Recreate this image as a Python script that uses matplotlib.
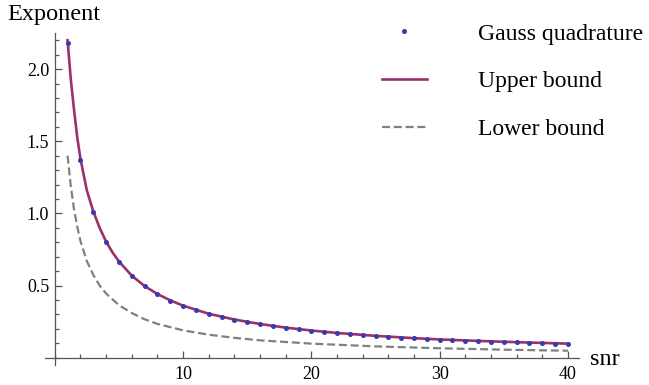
import numpy as np
import matplotlib.pyplot as plt
from matplotlib.ticker import MultipleLocator, FixedLocator

plt.rcParams['font.family'] = ['Liberation Serif', 'DejaVu Serif']

# Gauss quadrature points (snr = 1..40)
snr_pts = np.arange(1, 41)
gauss = [2.18, 1.37, 1.01, 0.80, 0.665, 0.566, 0.495, 0.44, 0.395, 0.358,
         0.328, 0.302, 0.282, 0.262, 0.245, 0.231, 0.218, 0.206, 0.196, 0.187,
         0.178, 0.170, 0.163, 0.156, 0.150, 0.144, 0.139, 0.134, 0.130, 0.125,
         0.122, 0.118, 0.115, 0.112, 0.109, 0.106, 0.104, 0.101, 0.098, 0.096]

# Upper bound curve
snr_up = [1, 1.25, 1.5, 1.75, 2, 2.5, 3, 3.5, 4, 4.5, 5, 6, 7, 8, 9, 10, 12,
          14, 16, 18, 20, 22, 25, 28, 30, 33, 36, 40]
upper = [2.20, 1.93, 1.72, 1.53, 1.38, 1.16, 1.015, 0.90, 0.805, 0.73, 0.668,
         0.569, 0.497, 0.442, 0.398, 0.361, 0.305, 0.265, 0.234, 0.209, 0.189,
         0.172, 0.152, 0.136, 0.127, 0.117, 0.108, 0.098]

# Lower bound curve
snr_lo = [1, 1.25, 1.5, 1.75, 2, 2.5, 3, 3.5, 4, 5, 6, 7, 8, 10, 12, 14, 16,
          20, 25, 30, 35, 40]
lower = [1.40, 1.19, 1.03, 0.91, 0.81, 0.67, 0.575, 0.50, 0.445, 0.365, 0.31,
         0.267, 0.235, 0.19, 0.16, 0.138, 0.121, 0.098, 0.079, 0.066, 0.056,
         0.049]

fig = plt.figure(figsize=(6.49, 3.85), dpi=100)
W, H = 649, 385
ax = fig.add_axes([45 / W, 20 / H, (579 - 45) / W, (365 - 33) / H])

ax.plot(snr_lo, lower, color='#808080', lw=1.6, ls=(0, (3.6, 1.7)),
        label='Lower bound')
ax.plot(snr_up, upper, color='#9c2f6c', lw=1.9, label='Upper bound')
ax.plot(snr_pts, gauss, ls='none', marker='o', ms=2.6, color='#3b3ba8',
        label='Gauss quadrature')

ax.set_xlim(-0.76, 40.86)
ax.set_ylim(-0.05, 2.25)

for s in ['top', 'right']:
    ax.spines[s].set_visible(False)
for s in ['left', 'bottom']:
    ax.spines[s].set_position(('data', 0))
    ax.spines[s].set_color('#555555')
    ax.spines[s].set_linewidth(0.9)

ax.xaxis.set_major_locator(FixedLocator([10, 20, 30, 40]))
ax.xaxis.set_minor_locator(MultipleLocator(2))
ax.yaxis.set_major_locator(FixedLocator([0.5, 1.0, 1.5, 2.0]))
ax.yaxis.set_minor_locator(MultipleLocator(0.1))
ax.yaxis.set_major_formatter(plt.FormatStrFormatter('%.1f'))
ax.tick_params(which='both', direction='in', color='#555555', width=0.9,
               labelsize=13)
ax.tick_params(which='major', length=5, pad=4)
ax.tick_params(axis='x', which='major', pad=6)
ax.tick_params(which='minor', length=3)

fig.text(7 / W, 1 - 20 / H, 'Exponent', fontsize=17.5, va='baseline',
         ha='left')
ax.text(41.7, -0.015, 'snr', fontsize=17.5, va='center', ha='left')

h, l = ax.get_legend_handles_labels()
order = [2, 1, 0]
ax.legend([h[i] for i in order], [l[i] for i in order], loc='upper left',
          bbox_to_anchor=(382 / W, 1 - 23 / H), bbox_transform=fig.transFigure,
          frameon=False, fontsize=17, handlelength=1.9, handletextpad=2.15,
          labelspacing=1.12, borderpad=0, borderaxespad=0, numpoints=1)

fig.savefig('out.png', dpi=100)
